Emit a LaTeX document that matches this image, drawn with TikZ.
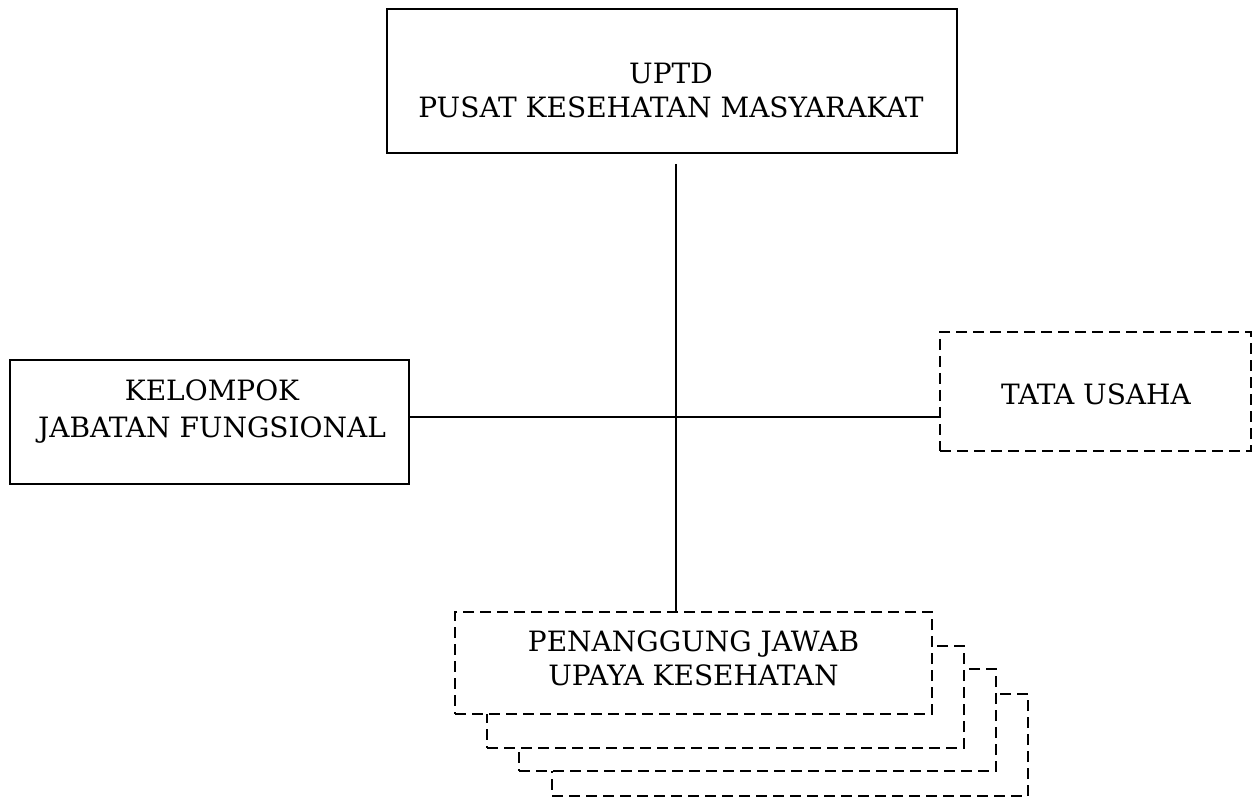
\documentclass[tikz,border=0pt]{standalone}
\usepackage{fontspec}
\setmainfont{DejaVu Serif}
\begin{document}
\begin{tikzpicture}[x=1pt,y=-1pt,line width=2pt]
\tikzset{
  solidbox/.style={draw=black, fill=white, rectangle, inner sep=0pt, outer sep=0pt},
  dashbox/.style={solidbox, dash pattern=on 11pt off 6pt},
  lbl/.style={align=center, inner sep=0pt, font=\fontsize{28}{34}\selectfont},
  conn/.style={draw=black, line width=2pt}
}
\useasboundingbox (0,0) rectangle (1253,799);
% boxes
\node[solidbox, minimum width=570pt, minimum height=144pt] (uptd) at (672,81) {};
\node[lbl] (uptdtxt) at (671,90) {UPTD\\PUSAT KESEHATAN MASYARAKAT};
\node[solidbox, minimum width=399pt, minimum height=124pt] (kjf) at (209.5,422) {};
\node[lbl] (kjftxt) at (212,412) {KELOMPOK\\[3pt]JABATAN FUNGSIONAL};
\node[dashbox, minimum width=311pt, minimum height=119pt] (tu) at (1095.5,391.5) {};
\node[lbl] (tutxt) at (1096,394) {TATA USAHA};
\node[dashbox, minimum width=476pt, minimum height=102pt] (pj4) at (790,745) {};
\node[dashbox, minimum width=477pt, minimum height=102pt] (pj3) at (757.5,720) {};
\node[dashbox, minimum width=477pt, minimum height=102pt] (pj2) at (725.5,697) {};
\node[dashbox, minimum width=477pt, minimum height=102pt] (pj) at (693.5,663) {};
\node[lbl] (pjtxt) at (693.5,658) {PENANGGUNG JAWAB\\UPAYA KESEHATAN};
% connectors
\coordinate (vtop) at (676,164);
\draw[conn] (vtop) -- (vtop |- pj.north);
\coordinate (hl) at (kjf.east |- 0,417);
\draw[conn] (hl) -- (hl -| tu.west);
\end{tikzpicture}
\end{document}
